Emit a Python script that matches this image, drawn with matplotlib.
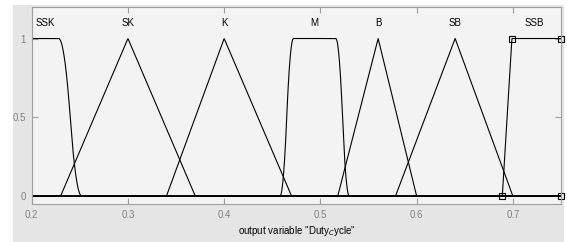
import numpy as np
import matplotlib
matplotlib.use('Agg')
import matplotlib.pyplot as plt
from matplotlib.patches import Rectangle

# membership functions of the output variable (MATLAB style parameters)
mf_names = ['SSK', 'SK', 'K', 'M', 'B', 'SB', 'SSB']
mf_types = ['zmf', 'trimf', 'trimf', 'pimf', 'trimf', 'trimf', 'trapmf']
mf_params = [
    [0.228, 0.252],
    [0.23, 0.30, 0.37],
    [0.34, 0.40, 0.47],
    [0.458, 0.472, 0.516, 0.530],
    [0.518, 0.56, 0.60],
    [0.578, 0.64, 0.70],
    [0.689, 0.699, 0.75, 0.76],
]
label_x = [0.214, 0.30, 0.40, 0.494, 0.56, 0.64, 0.7225]
x_range = [0.2, 0.75]
x_ticks = [0.2, 0.3, 0.4, 0.5, 0.6, 0.7]
y_ticks = [0, 0.5, 1]

GREY_TXT = (0.5, 0.5, 0.5)
GREY_AX = (0.62, 0.62, 0.62)


def smf(x, a, b):
    m = (a + b) / 2
    y = np.zeros_like(x)
    y[x >= b] = 1
    i = (x > a) & (x <= m)
    y[i] = 2 * ((x[i] - a) / (b - a)) ** 2
    i = (x > m) & (x < b)
    y[i] = 1 - 2 * ((x[i] - b) / (b - a)) ** 2
    return y


def zmf(x, a, b):
    return 1 - smf(x, a, b)


def evalmf(x, kind, p):
    if kind == 'trimf':
        return np.interp(x, p, [0, 1, 0])
    if kind == 'trapmf':
        return np.interp(x, p, [0, 1, 1, 0])
    if kind == 'zmf':
        return zmf(x, p[0], p[1])
    if kind == 'pimf':
        return smf(x, p[0], p[1]) * zmf(x, p[2], p[3])


fig = plt.figure(figsize=(5.67, 2.42), dpi=100, facecolor='white')
fig.patches.append(Rectangle((13 / 567, 0), 551 / 567, 237 / 242, transform=fig.transFigure,
                             facecolor='#e5e5e5', edgecolor='none', zorder=-10))
ax = fig.add_axes([31.7 / 567, 38 / 242, (561 - 31.7) / 567, 197 / 242])
ax.set_facecolor('#f3f3f3')

x = np.linspace(x_range[0], x_range[1], 2001)
for name, kind, p, lx in zip(mf_names, mf_types, mf_params, label_x):
    ax.plot(x, evalmf(x, kind, p), color='black', lw=0.8)
    ax.text(lx, 1.1, name, ha='center', va='center', fontsize=7, family='Liberation Sans')

# selected MF corners marked with squares
sel = mf_params[-1]
ax.plot([sel[0], sel[1], x_range[1], x_range[1]], [0, 1, 1, 0], ls='none', marker='s', ms=4,
        mfc='none', mec='black', mew=0.8, clip_on=False)

ax.set_xlim(x_range)
ax.set_ylim(-0.05, 1.2)
ax.set_xticks(x_ticks)
ax.set_xticklabels(['%g' % t for t in x_ticks])
ax.set_yticks(y_ticks)
ax.set_yticklabels(['%g' % t for t in y_ticks])
ax.tick_params(direction='in', length=4, color=GREY_AX, labelcolor=GREY_TXT, labelsize=7,
               top=True, right=True, pad=4)
for lab in ax.get_xticklabels() + ax.get_yticklabels():
    lab.set_family('Liberation Sans')
for spine in ax.spines.values():
    spine.set_color(GREY_AX)
    spine.set_linewidth(0.8)
ax.set_xlabel('output variable "Duty$_C$ycle"', fontsize=7, family='Liberation Sans', labelpad=3)

fig.savefig('out.png', dpi=100, facecolor=fig.get_facecolor())
